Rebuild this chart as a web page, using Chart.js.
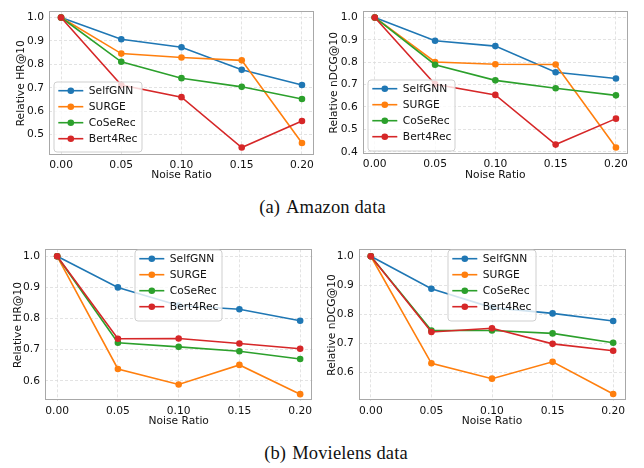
<!DOCTYPE html>
<html>
<head>
<meta charset="utf-8">
<script src="https://cdn.jsdelivr.net/npm/chart.js@4.4.1/dist/chart.umd.min.js"></script>
<style>
  html, body { margin: 0; padding: 0; background: #fff; }
  #wrap { position: relative; width: 644px; height: 468px; overflow: hidden; background: #fff; }
  canvas { position: absolute; }
  .cap { position: absolute; font-family: "Liberation Serif", "DejaVu Serif", serif; font-size: 18.5px; letter-spacing: 0.15px; color: #111; white-space: nowrap; transform: translate(-50%, -50%); }
  .cap span { margin-right: 6px; }
</style>
</head>
<body>
<div id="wrap">
  <canvas id="c1" width="322" height="190" style="left:0px;top:0px;width:322px;height:190px"></canvas>
  <canvas id="c2" width="322" height="190" style="left:322px;top:0px;width:322px;height:190px"></canvas>
  <canvas id="c3" width="322" height="200" style="left:0px;top:235px;width:322px;height:200px"></canvas>
  <canvas id="c4" width="322" height="200" style="left:322px;top:235px;width:322px;height:200px"></canvas>
  <div class="cap" style="left:322.5px;top:207px"><span>(a)</span>Amazon data</div>
  <div class="cap" style="left:336px;top:453px"><span>(b)</span>Movielens data</div>
</div>
<script>
// ---------------- DATA ----------------
const noiseRatios = [0.00, 0.05, 0.10, 0.15, 0.20];
const xTickValues = [0.00, 0.05, 0.10, 0.15, 0.20];
const seriesNames = ['SelfGNN', 'SURGE', 'CoSeRec', 'Bert4Rec'];

// (a) Amazon — Relative HR@10
const amazonHR_SelfGNN  = [1.0, 0.907, 0.873, 0.777, 0.712];
const amazonHR_SURGE    = [1.0, 0.846, 0.829, 0.817, 0.464];
const amazonHR_CoSeRec  = [1.0, 0.811, 0.741, 0.704, 0.652];
const amazonHR_Bert4Rec = [1.0, 0.712, 0.660, 0.445, 0.558];
const amazonHRTicks = [0.5, 0.6, 0.7, 0.8, 0.9, 1.0];

// (a) Amazon — Relative nDCG@10
const amazonNDCG_SelfGNN  = [1.0, 0.896, 0.872, 0.755, 0.727];
const amazonNDCG_SURGE    = [1.0, 0.801, 0.791, 0.790, 0.419];
const amazonNDCG_CoSeRec  = [1.0, 0.789, 0.719, 0.684, 0.652];
const amazonNDCG_Bert4Rec = [1.0, 0.702, 0.654, 0.432, 0.548];
const amazonNDCGTicks = [0.4, 0.5, 0.6, 0.7, 0.8, 0.9, 1.0];

// (b) Movielens — Relative HR@10
const movieHR_SelfGNN  = [1.0, 0.900, 0.842, 0.830, 0.793];
const movieHR_SURGE    = [1.0, 0.638, 0.588, 0.651, 0.557];
const movieHR_CoSeRec  = [1.0, 0.722, 0.709, 0.695, 0.670];
const movieHR_Bert4Rec = [1.0, 0.735, 0.736, 0.720, 0.703];
const movieHRTicks = [0.6, 0.7, 0.8, 0.9, 1.0];

// (b) Movielens — Relative nDCG@10
const movieNDCG_SelfGNN  = [1.0, 0.888, 0.823, 0.803, 0.777];
const movieNDCG_SURGE    = [1.0, 0.631, 0.578, 0.636, 0.525];
const movieNDCG_CoSeRec  = [1.0, 0.744, 0.744, 0.734, 0.702];
const movieNDCG_Bert4Rec = [1.0, 0.739, 0.752, 0.698, 0.674];
const movieNDCGTicks = [0.6, 0.7, 0.8, 0.9, 1.0];

// ---------------- STYLE ----------------
const colors = ['#1f77b4', '#ff7f0e', '#2ca02c', '#d62728'];
const FONT = 'DejaVu Sans';
const FSIZE = 10.7;

const framePlugin = {
  id: 'frameAndLegend',
  afterDatasetsDraw(chart) {
    const {ctx, chartArea: a} = chart;
    ctx.save();
    ctx.strokeStyle = '#a8a8a8';
    ctx.lineWidth = 1;
    ctx.strokeRect(Math.round(a.left) + 0.5, Math.round(a.top) + 0.5,
                   Math.round(a.right - a.left) - 1, Math.round(a.bottom - a.top) - 1);
    ctx.restore();
  },
  afterDraw(chart) {
    const L = chart.options.plugins.frameAndLegend;
    if (!L) return;
    const {ctx} = chart;
    ctx.save();
    const r = 3;
    const x = L.x, y = L.y, w = L.w, h = L.h;
    ctx.beginPath();
    ctx.moveTo(x + r, y);
    ctx.lineTo(x + w - r, y); ctx.quadraticCurveTo(x + w, y, x + w, y + r);
    ctx.lineTo(x + w, y + h - r); ctx.quadraticCurveTo(x + w, y + h, x + w - r, y + h);
    ctx.lineTo(x + r, y + h); ctx.quadraticCurveTo(x, y + h, x, y + h - r);
    ctx.lineTo(x, y + r); ctx.quadraticCurveTo(x, y, x + r, y);
    ctx.closePath();
    ctx.fillStyle = 'rgba(255,255,255,0.8)';
    ctx.fill();
    ctx.strokeStyle = '#cfcfcf';
    ctx.lineWidth = 1;
    ctx.stroke();
    ctx.font = FSIZE + 'px "' + FONT + '"';
    ctx.textBaseline = 'middle';
    ctx.textAlign = 'left';
    chart.data.datasets.forEach((ds, i) => {
      const cy = y + 8.7 + 16 * i;
      ctx.strokeStyle = ds.borderColor;
      ctx.lineWidth = 1.6;
      ctx.beginPath();
      ctx.moveTo(x + 4.3, cy); ctx.lineTo(x + 29.3, cy);
      ctx.stroke();
      ctx.fillStyle = ds.borderColor;
      ctx.beginPath();
      ctx.arc(x + 16.8, cy, 3.3, 0, Math.PI * 2);
      ctx.fill();
      ctx.fillStyle = '#111';
      ctx.fillText(ds.label, x + 34.8, cy + 0.5);
    });
    ctx.restore();
  }
};

function makeChart(id, cfg) {
  const seriesData = cfg.series;
  const datasets = seriesNames.map((name, i) => ({
    label: name,
    data: noiseRatios.map((xv, j) => ({x: xv, y: seriesData[i][j]})),
    borderColor: colors[i],
    backgroundColor: colors[i],
    borderWidth: 1.6,
    pointRadius: 3.3,
    pointBorderWidth: 0,
    pointHoverRadius: 3.3,
    pointBackgroundColor: colors[i],
    tension: 0,
    order: seriesNames.length - i
  }));
  const gridOpts = { color: '#dcdcdc', lineWidth: 0.8, drawTicks: false };
  return new Chart(document.getElementById(id), {
    type: 'line',
    data: { datasets },
    plugins: [framePlugin],
    options: {
      responsive: false,
      animation: false,
      events: [],
      layout: { padding: { left: 0, top: cfg.top, right: cfg.right, bottom: 0 } },
      plugins: {
        legend: { display: false },
        tooltip: { enabled: false },
        frameAndLegend: cfg.legend
      },
      scales: {
        x: {
          type: 'linear',
          min: -0.01, max: 0.21,
          afterBuildTicks: s => { s.ticks = xTickValues.map(v => ({value: v})); },
          afterFit: s => { s.height = cfg.xh; },
          ticks: {
            autoSkip: false, maxRotation: 0, padding: 4,
            color: '#111', font: { family: FONT, size: FSIZE },
            callback: v => Number(v).toFixed(2)
          },
          grid: gridOpts,
          border: { display: false, dash: [3, 2] },
          title: { display: true, text: 'Noise Ratio', color: '#111',
                   font: { family: FONT, size: FSIZE }, padding: { top: 0, bottom: cfg.xtp } }
        },
        y: {
          type: 'linear',
          min: cfg.ymin, max: cfg.ymax,
          afterBuildTicks: s => { s.ticks = cfg.yTicks.map(v => ({value: v})); },
          afterFit: s => { s.width = cfg.yw; },
          ticks: {
            autoSkip: false, padding: 5,
            color: '#111', font: { family: FONT, size: FSIZE },
            callback: v => Number(v).toFixed(1)
          },
          grid: gridOpts,
          border: { display: false, dash: [3, 2] },
          title: { display: true, text: cfg.ytitle, color: '#111',
                   font: { family: FONT, size: FSIZE }, padding: { top: cfg.ytp, bottom: 0 } }
        }
      }
    }
  });
}

makeChart('c1', {
  series: [amazonHR_SelfGNN, amazonHR_SURGE, amazonHR_CoSeRec, amazonHR_Bert4Rec],
  yTicks: amazonHRTicks, ymin: 0.413, ymax: 1.026, ytitle: 'Relative HR@10',
  top: 3, right: 8, yw: 49, xh: 35, ytp: 15.2, xtp: 8.6,
  legend: { x: 54, y: 82, w: 88, h: 70 }
});
makeChart('c2', {
  series: [amazonNDCG_SelfGNN, amazonNDCG_SURGE, amazonNDCG_CoSeRec, amazonNDCG_Bert4Rec],
  yTicks: amazonNDCGTicks, ymin: 0.39, ymax: 1.027, ytitle: 'Relative nDCG@10',
  top: 3, right: 16, yw: 40.7, xh: 36, ytp: 6.2, xtp: 8.6,
  legend: { x: 46, y: 80, w: 87, h: 71 }
});
makeChart('c3', {
  series: [movieHR_SelfGNN, movieHR_SURGE, movieHR_CoSeRec, movieHR_Bert4Rec],
  yTicks: movieHRTicks, ymin: 0.536, ymax: 1.0225, ytitle: 'Relative HR@10',
  top: 14.3, right: 9.7, yw: 45, xh: 34.3, ytp: 11.8, xtp: 7.2,
  legend: { x: 135, y: 15, w: 87, h: 71 }
});
makeChart('c4', {
  series: [movieNDCG_SelfGNN, movieNDCG_SURGE, movieNDCG_CoSeRec, movieNDCG_Bert4Rec],
  yTicks: movieNDCGTicks, ymin: 0.502, ymax: 1.024, ytitle: 'Relative nDCG@10',
  top: 14.3, right: 18.7, yw: 36.7, xh: 34.3, ytp: 3.5, xtp: 7.2,
  legend: { x: 126, y: 15, w: 88, h: 71 }
});
</script>
</body>
</html>
